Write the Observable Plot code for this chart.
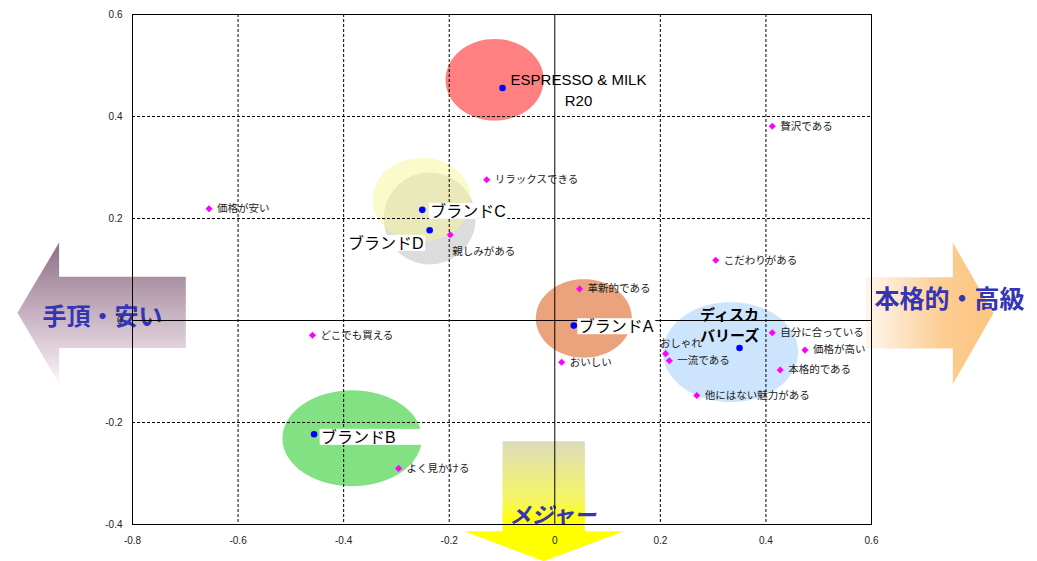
<!DOCTYPE html>
<html><head><meta charset="utf-8">
<script src="https://cdn.jsdelivr.net/npm/d3@7"></script>
<script src="https://cdn.jsdelivr.net/npm/@observablehq/plot@0.6"></script>
<style>body{margin:0;background:#fff}</style>
</head><body><div id="chart"></div>
<script>
// ---- data ----
const xTicks = [-0.8, -0.6, -0.4, -0.2, 0, 0.2, 0.4, 0.6];
const yTicks = [-0.4, -0.2, 0, 0.2, 0.4, 0.6];
const gridXValues = [-0.6, -0.4, -0.2, 0.2, 0.4];
const gridYValues = [-0.2, 0.2, 0.4];

const brandNames = ["ESPRESSO & MILK\nR20", "ブランドC", "ブランドD", "ブランドB", "ブランドA", "ディスカ\nバリーズ"];
const brandX = [-0.099, -0.251, -0.237, -0.456, 0.036, 0.350];
const brandY = [0.456, 0.217, 0.177, -0.223, -0.010, -0.054];

// bubble (ellipse) around each brand: centre and radii, in data units
const bubbleX = [-0.114, -0.252, -0.237, -0.384, 0.055, 0.333];
const bubbleY = [0.472, 0.237, 0.200, -0.231, 0.004, -0.062];
const bubbleRx = [0.093, 0.093, 0.087, 0.132, 0.091, 0.128];
const bubbleRy = [0.080, 0.082, 0.090, 0.094, 0.077, 0.098];

const attrNames = ["価格が安い", "リラックスできる", "親しみがある", "贅沢である", "こだわりがある", "革新的である",
  "自分に合っている", "価格が高い", "おしゃれ", "一流である", "本格的である", "他にはない魅力がある",
  "おいしい", "どこでも買える", "よく見かける"];
const attrX = [-0.655, -0.129, -0.198, 0.412, 0.305, 0.047, 0.412, 0.474, 0.210, 0.217, 0.427, 0.269, 0.013, -0.459, -0.296];
const attrY = [0.219, 0.276, 0.168, 0.381, 0.118, 0.062, -0.024, -0.058, -0.065, -0.079, -0.097, -0.147, -0.082, -0.029, -0.290];

const arrowLabels = ["手頂・安い", "本格的・高級", "メジャー"];
const arrowLabelX = [-0.857, 0.748, -0.004];
const arrowLabelY = [0.0065, 0.041, -0.384];
const arrowLeft = [[-1.018, 0.015], [-0.939, 0.153], [-0.939, 0.086], [-0.699, 0.086], [-0.699, -0.054], [-0.939, -0.054], [-0.939, -0.124]];
const arrowRight = [[0.589, 0.085], [0.754, 0.085], [0.754, 0.153], [0.831, 0.014], [0.754, -0.125], [0.754, -0.055], [0.589, -0.055]];
const arrowDown = [[-0.099, -0.237], [0.057, -0.237], [0.057, -0.413], [0.131, -0.413], [-0.021, -0.472], [-0.172, -0.413], [-0.099, -0.413]];

// ---- styles ----
const bubbleStyle = [
  {fill: "#ff8080", opacity: 1},
  {fill: "#f5f596", opacity: 0.5},
  {fill: "#dcdcdc", opacity: 1},
  {fill: "#82e182", opacity: 1},
  {fill: "#eaa37d", opacity: 1},
  {fill: "#cce4fc", opacity: 1}
];
const bubbleOrder = [0, 2, 1, 3, 4, 5];
const brandLabelStyle = [
  {dx: 76, dy: 1, anchor: "middle", size: 15, weight: "normal", box: false, lh: 1.4},
  {dx: 8, dy: 2, anchor: "start", size: 16, weight: "normal", box: true, extra: 0},
  {dx: -6, dy: 13.5, anchor: "end", size: 16, weight: "normal", box: true, extra: 0},
  {dx: 7, dy: 3.5, anchor: "start", size: 16, weight: "normal", box: true, extra: 25},
  {dx: 5, dy: 1.5, anchor: "start", size: 16, weight: "normal", box: true, extra: 0},
  {dx: -10, dy: -24, anchor: "middle", size: 15, weight: 600, box: false, lh: 1.35}
];
const attrOffset = {"おしゃれ": [-6, -10.5], "親しみがある": [2, 16.5]};
const arrowLabelStyle = [
  {size: 24, italic: false},
  {size: 25, italic: false},
  {size: 22, italic: true}
];

// ---- tables ----
const brands = brandNames.map((n, i) => ({name: n, x: brandX[i], y: brandY[i], i}));
const attrs = attrNames.map((n, i) => ({name: n, x: attrX[i], y: attrY[i]}));
const ellipse = (i) => d3.range(73).map(k => {
  const t = k / 72 * 2 * Math.PI;
  return {x: bubbleX[i] + bubbleRx[i] * Math.cos(t), y: bubbleY[i] + bubbleRy[i] * Math.sin(t)};
});
const poly = (pts) => pts.map(([x, y]) => ({x, y}));

const marks = [];
// arrows (behind everything)
marks.push(Plot.line(poly(arrowLeft), {x: "x", y: "y", fill: "url(#gradLeft)", stroke: "none", curve: "linear-closed"}));
marks.push(Plot.line(poly(arrowRight), {x: "x", y: "y", fill: "url(#gradRight)", stroke: "none", curve: "linear-closed"}));
marks.push(Plot.line(poly(arrowDown), {x: "x", y: "y", fill: "url(#gradDown)", stroke: "none", curve: "linear-closed"}));
arrowLabels.forEach((t, i) => {
  const s = arrowLabelStyle[i];
  marks.push(Plot.text([t], {x: () => arrowLabelX[i], y: () => arrowLabelY[i], text: d => d,
    fontSize: s.size, fontWeight: "bold", fontStyle: s.italic ? "italic" : "normal", fill: "#3434b4",
    fontFamily: "'Noto Sans CJK JP', sans-serif"}));
});
// bubbles
bubbleOrder.forEach(i => {
  marks.push(Plot.line(ellipse(i), {x: "x", y: "y", fill: bubbleStyle[i].fill, fillOpacity: bubbleStyle[i].opacity,
    stroke: "none", curve: "linear-closed"}));
});
// grid, zero lines, frame, axes
marks.push(Plot.ruleX(gridXValues, {stroke: "#000", strokeDasharray: "3,2"}));
marks.push(Plot.ruleY(gridYValues, {stroke: "#000", strokeDasharray: "3,2"}));
marks.push(Plot.ruleX([0], {stroke: "#000"}));
marks.push(Plot.ruleY([0], {stroke: "#000"}));
marks.push(Plot.frame({stroke: "#000"}));
marks.push(Plot.axisX(xTicks, {tickSize: 0, tickPadding: 12, tickFormat: d => String(d), label: null, fontSize: 10}));
marks.push(Plot.axisY(yTicks, {tickSize: 0, tickPadding: 10, tickFormat: d => String(d), label: null, fontSize: 10}));
// brand labels
brands.forEach((b, i) => {
  const s = brandLabelStyle[i];
  marks.push(Plot.text([b], {x: "x", y: "y", text: "name", dx: s.dx, dy: s.dy, textAnchor: s.anchor,
    fontSize: s.size, fontWeight: s.weight, fill: "#000", lineHeight: s.lh || 1,
    ariaDescription: s.box ? "boxed-" + s.extra : "brand-label"}));
});
// brand points
marks.push(Plot.dot(brands, {x: "x", y: "y", r: 3.3, fill: "#0000ff", stroke: "none"}));
// attribute points and labels
marks.push(Plot.dot(attrs, {x: "x", y: "y", r: 3.2, symbol: "diamond2", fill: "#ff00ff", stroke: "none"}));
attrs.forEach(a => {
  const o = attrOffset[a.name] || [8, 0];
  marks.push(Plot.text([a], {x: "x", y: "y", text: "name", dx: o[0], dy: o[1], textAnchor: "start",
    fontSize: 10.5, fill: "#222"}));
});

const svg = Plot.plot({
  width: 1037, height: 561,
  marginLeft: 132, marginRight: 166, marginTop: 14, marginBottom: 37,
  x: {domain: [-0.8, 0.6]},
  y: {domain: [-0.4, 0.6]},
  style: {fontFamily: "'Liberation Sans', 'Noto Sans CJK JP', sans-serif", fontSize: "10px", color: "#222", background: "#fff"},
  marks
});
document.getElementById("chart").appendChild(svg);

// gradients for the direction arrows
const defs = d3.select(svg).insert("defs", ":first-child");
const gl = defs.append("linearGradient").attr("id", "gradLeft").attr("x1", 0).attr("y1", 0).attr("x2", 0).attr("y2", 1);
gl.append("stop").attr("offset", 0).attr("stop-color", "#8f6f86");
gl.append("stop").attr("offset", 1).attr("stop-color", "#fdf4fa");
const gr = defs.append("linearGradient").attr("id", "gradRight").attr("x1", 0).attr("y1", 0).attr("x2", 1).attr("y2", 0);
gr.append("stop").attr("offset", 0).attr("stop-color", "#fff6ee");
gr.append("stop").attr("offset", 0.62).attr("stop-color", "#fccc90");
gr.append("stop").attr("offset", 1).attr("stop-color", "#fcc581");
const gd = defs.append("linearGradient").attr("id", "gradDown").attr("x1", 0).attr("y1", 0).attr("x2", 0).attr("y2", 1);
gd.append("stop").attr("offset", 0).attr("stop-color", "#dcdcbc");
gd.append("stop").attr("offset", 0.5).attr("stop-color", "#f6f660");
gd.append("stop").attr("offset", 0.66).attr("stop-color", "#ffff00");
gd.append("stop").attr("offset", 1).attr("stop-color", "#ffff00");

// white boxes behind boxed brand labels
svg.querySelectorAll('g[aria-description^="boxed-"]').forEach(g => {
  const extra = +g.getAttribute("aria-description").slice(6);
  g.querySelectorAll("text").forEach(t => {
    const bb = t.getBBox();
    const r = document.createElementNS("http://www.w3.org/2000/svg", "rect");
    r.setAttribute("x", bb.x - 1.5);
    r.setAttribute("y", bb.y + 1);
    r.setAttribute("width", bb.width + 3 + extra);
    r.setAttribute("height", bb.height - 2);
    r.setAttribute("fill", "#fff");
    if (t.getAttribute("transform")) r.setAttribute("transform", t.getAttribute("transform"));
    t.parentNode.insertBefore(r, t);
  });
});
</script>
</body></html>
